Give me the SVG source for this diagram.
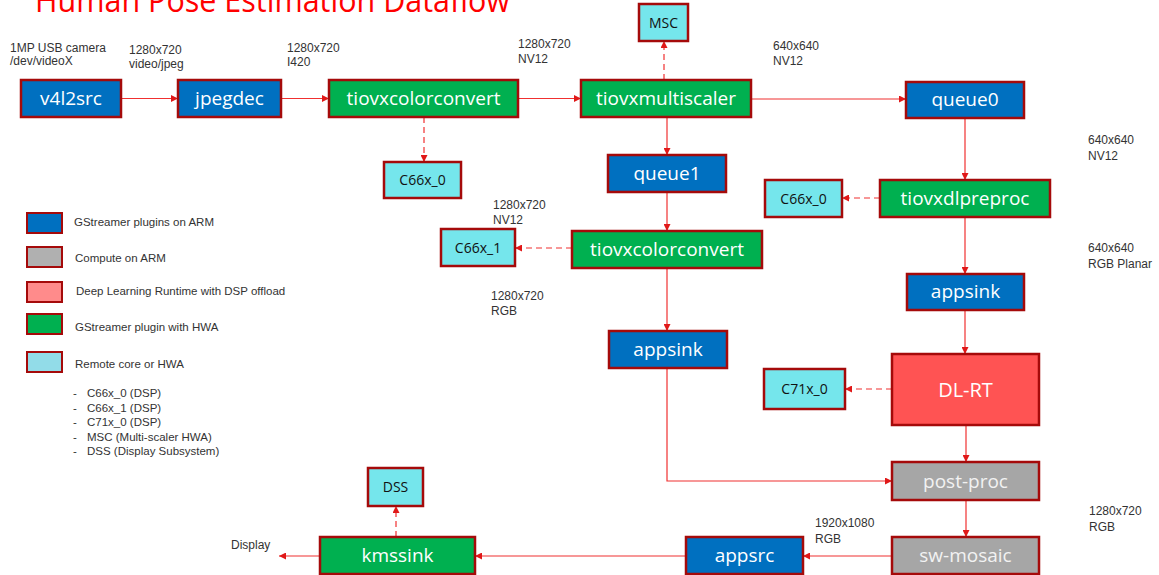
<svg xmlns="http://www.w3.org/2000/svg" width="1159" height="575" viewBox="0 0 1159 575">
<style>
.n rect{stroke:#A50A0A;stroke-width:2.5}
.blue{fill:#0070C0}.green{fill:#00B050}.cyan{fill:#75E6EC}.gray{fill:#A6A6A6}.dl{fill:#FF5353}
.t{font-family:"Open Sans","Noto Sans",sans-serif;font-size:19px;fill:#FFFFFF;text-anchor:middle}
.tc{font-family:"Open Sans","Noto Sans",sans-serif;font-size:14px;fill:#111111;text-anchor:middle}
.lb{font-family:"Liberation Sans",Arial,sans-serif;font-size:12px;fill:#333333}
.lg{font-family:"Liberation Sans",Arial,sans-serif;font-size:11.5px;fill:#333333}
.c{fill:none;stroke:#F03030;stroke-width:1.2}
.d{stroke-dasharray:6,4}
</style>
<defs>
<marker id="ah" viewBox="0 0 10 10" refX="10" refY="5" markerWidth="7" markerHeight="7" markerUnits="userSpaceOnUse" orient="auto"><path d="M0,0 L10,5 L0,10 z" fill="#E01818"/></marker>
</defs>
<text x="35" y="12" font-family="Open Sans, Noto Sans, sans-serif" font-size="32" fill="#FF0000" textLength="475" lengthAdjust="spacingAndGlyphs">Human Pose Estimation Dataflow</text>

<g id="connectors">
<path class="c" d="M121,98.5 H178" marker-end="url(#ah)"/>
<path class="c" d="M281,98.5 H329" marker-end="url(#ah)"/>
<path class="c" d="M518,98.5 H581" marker-end="url(#ah)"/>
<path class="c" d="M751,99 H906" marker-end="url(#ah)"/>
<path class="c d" d="M664,80 V41" marker-end="url(#ah)"/>
<path class="c d" d="M424,117 V162" marker-end="url(#ah)"/>
<path class="c" d="M667,117 V155" marker-end="url(#ah)"/>
<path class="c" d="M667,192 V231" marker-end="url(#ah)"/>
<path class="c d" d="M572,248 H515" marker-end="url(#ah)"/>
<path class="c" d="M667,268 V331" marker-end="url(#ah)"/>
<path class="c" d="M667,368 V481 H892" marker-end="url(#ah)"/>
<path class="c" d="M965,118 V180" marker-end="url(#ah)"/>
<path class="c d" d="M880,198 H842" marker-end="url(#ah)"/>
<path class="c" d="M965,217 V274" marker-end="url(#ah)"/>
<path class="c" d="M965,310 V354" marker-end="url(#ah)"/>
<path class="c d" d="M892,389 H845" marker-end="url(#ah)"/>
<path class="c" d="M966,425 V462" marker-end="url(#ah)"/>
<path class="c" d="M966,500 V537" marker-end="url(#ah)"/>
<path class="c" d="M892,556 H803" marker-end="url(#ah)"/>
<path class="c" d="M686,556 H475" marker-end="url(#ah)"/>
<path class="c" d="M320,556 H279" marker-end="url(#ah)"/>
<path class="c d" d="M396,537 V506" marker-end="url(#ah)"/>
</g>

<g id="v4l2src" class="n"><rect class="blue" x="21" y="80" width="100" height="37"/><text class="t" x="71" y="105">v4l2src</text></g>
<g id="jpegdec" class="n"><rect class="blue" x="178" y="80" width="103" height="37"/><text class="t" x="229.5" y="105">jpegdec</text></g>
<g id="tiovxcolorconvert1" class="n"><rect class="green" x="329" y="80" width="189" height="37"/><text class="t" x="423.5" y="105">tiovxcolorconvert</text></g>
<g id="tiovxmultiscaler" class="n"><rect class="green" x="581" y="80" width="170" height="37"/><text class="t" x="666" y="105">tiovxmultiscaler</text></g>
<g id="queue0" class="n"><rect class="blue" x="906" y="82" width="118" height="36"/><text class="t" x="965" y="106">queue0</text></g>
<g id="MSC" class="n"><rect class="cyan" x="639" y="4" width="49" height="37"/><text class="tc" x="663.5" y="27.5">MSC</text></g>
<g id="C66x_0a" class="n"><rect class="cyan" x="384" y="162" width="77" height="36"/><text class="tc" x="422.5" y="185">C66x_0</text></g>
<g id="queue1" class="n"><rect class="blue" x="608" y="155" width="118" height="37"/><text class="t" x="667" y="180">queue1</text></g>
<g id="C66x_0b" class="n"><rect class="cyan" x="765" y="180" width="77" height="37"/><text class="tc" x="803.5" y="203.5">C66x_0</text></g>
<g id="tiovxdlpreproc" class="n"><rect class="green" x="880" y="180" width="170" height="37"/><text class="t" x="965" y="205">tiovxdlpreproc</text></g>
<g id="C66x_1" class="n"><rect class="cyan" x="441" y="229" width="74" height="37"/><text class="tc" x="478" y="252.5">C66x_1</text></g>
<g id="tiovxcolorconvert2" class="n"><rect class="green" x="572" y="231" width="190" height="37"/><text class="t" x="667" y="256">tiovxcolorconvert</text></g>
<g id="appsink1" class="n"><rect class="blue" x="907" y="274" width="117" height="36"/><text class="t" x="965.5" y="298">appsink</text></g>
<g id="appsink2" class="n"><rect class="blue" x="609" y="331" width="118" height="37"/><text class="t" x="668" y="356">appsink</text></g>
<g id="DL-RT" class="n"><rect class="dl" x="892" y="354" width="147" height="71"/><text class="t" x="965.5" y="397" style="font-size:20px">DL-RT</text></g>
<g id="C71x_0" class="n"><rect class="cyan" x="764" y="369" width="81" height="40"/><text class="tc" x="804.5" y="394">C71x_0</text></g>
<g id="post-proc" class="n"><rect class="gray" x="892" y="462" width="147" height="38"/><text class="t" x="965.5" y="487.5" style="fill:#F2F2F2">post-proc</text></g>
<g id="sw-mosaic" class="n"><rect class="gray" x="892" y="537" width="147" height="37"/><text class="t" x="965.5" y="562" style="fill:#F2F2F2">sw-mosaic</text></g>
<g id="appsrc" class="n"><rect class="blue" x="686" y="537" width="117" height="37"/><text class="t" x="744.5" y="562">appsrc</text></g>
<g id="kmssink" class="n"><rect class="green" x="320" y="537" width="155" height="37"/><text class="t" x="397.5" y="562">kmssink</text></g>
<g id="DSS" class="n"><rect class="cyan" x="368" y="468" width="55" height="38"/><text class="tc" x="395.5" y="492">DSS</text></g>

<g id="labels">
<text class="lb" x="10" y="52">1MP USB camera</text><text class="lb" x="10" y="65">/dev/videoX</text>
<text class="lb" x="129" y="54">1280x720</text><text class="lb" x="129" y="68">video/jpeg</text>
<text class="lb" x="287" y="52">1280x720</text><text class="lb" x="287" y="66">I420</text>
<text class="lb" x="518" y="48">1280x720</text><text class="lb" x="518" y="63">NV12</text>
<text class="lb" x="773" y="50">640x640</text><text class="lb" x="773" y="65">NV12</text>
<text class="lb" x="1088" y="144">640x640</text><text class="lb" x="1088" y="160">NV12</text>
<text class="lb" x="493" y="209">1280x720</text><text class="lb" x="493" y="224">NV12</text>
<text class="lb" x="1088" y="252">640x640</text><text class="lb" x="1088" y="268">RGB Planar</text>
<text class="lb" x="491" y="300">1280x720</text><text class="lb" x="491" y="315">RGB</text>
<text class="lb" x="815" y="527">1920x1080</text><text class="lb" x="815" y="543">RGB</text>
<text class="lb" x="1089" y="515">1280x720</text><text class="lb" x="1089" y="531">RGB</text>
<text class="lb" x="231" y="549">Display</text>
</g>

<g id="legend">
<rect x="27" y="213" width="35" height="20" fill="#0070C0" stroke="#A50A0A" stroke-width="2"/>
<rect x="27" y="247" width="35" height="20" fill="#B0B0B0" stroke="#A50A0A" stroke-width="2"/>
<rect x="27" y="282" width="35" height="20" fill="#FF8B8B" stroke="#A50A0A" stroke-width="2"/>
<rect x="27" y="314" width="35" height="20" fill="#00B050" stroke="#A50A0A" stroke-width="2"/>
<rect x="27" y="352" width="35" height="20" fill="#92DCE8" stroke="#A50A0A" stroke-width="2"/>
<text class="lg" x="74" y="226">GStreamer plugins on ARM</text>
<text class="lg" x="75" y="262">Compute on ARM</text>
<text class="lg" x="76" y="295">Deep Learning Runtime with DSP offload</text>
<text class="lg" x="75" y="331">GStreamer plugin with HWA</text>
<text class="lg" x="75" y="368">Remote core or HWA</text>
<text class="lg" x="73" y="397">-</text><text class="lg" x="87" y="397">C66x_0 (DSP)</text>
<text class="lg" x="73" y="412">-</text><text class="lg" x="87" y="412">C66x_1 (DSP)</text>
<text class="lg" x="73" y="426">-</text><text class="lg" x="87" y="426">C71x_0 (DSP)</text>
<text class="lg" x="73" y="441">-</text><text class="lg" x="87" y="441">MSC (Multi-scaler HWA)</text>
<text class="lg" x="73" y="455">-</text><text class="lg" x="87" y="455">DSS (Display Subsystem)</text>
</g>
</svg>
